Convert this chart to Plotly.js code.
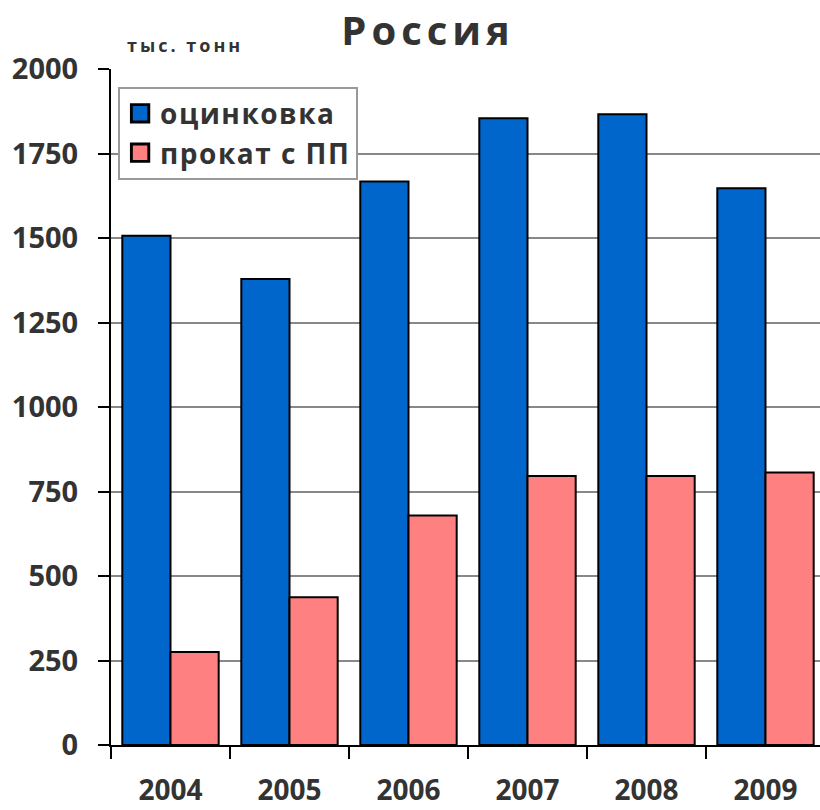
<!DOCTYPE html>
<html>
<head>
<meta charset="utf-8">
<script src="https://cdn.plot.ly/plotly-3.0.1.min.js"></script>
<style>
  html, body { margin: 0; padding: 0; background: #fff; }
  #chart { width: 820px; height: 810px; }
  .gtitle { letter-spacing: 5px; }
  .legendtext { letter-spacing: 1.5px; }
  .annotation-text { letter-spacing: 3px; }
  .legendpoints path { transform: translate(20px, 0px) scale(1.45); }
</style>
</head>
<body>
<div id="chart"></div>
<script>
const years = ['2004', '2005', '2006', '2007', '2008', '2009'];
const galvanized = [1507, 1379, 1667, 1854, 1866, 1647];
const coated = [275, 437, 679, 796, 796, 806];
const seriesNames = ['оцинковка', 'прокат с ПП'];
const yTicks = [0, 250, 500, 750, 1000, 1250, 1500, 1750, 2000];

const FONT = 'Open Sans, DejaVu Sans, sans-serif';
const TXT = '#333333';

const data = [
  {
    type: 'bar', x: years, y: galvanized, name: seriesNames[0],
    marker: { color: '#0066CC', line: { color: '#000', width: 2 } },
    hoverinfo: 'none'
  },
  {
    type: 'bar', x: years, y: coated, name: seriesNames[1],
    marker: { color: '#FF8080', line: { color: '#000', width: 2 } },
    hoverinfo: 'none'
  }
];

const layout = {
  width: 820, height: 810,
  margin: { l: 111, r: 0, t: 69, b: 65 },
  paper_bgcolor: '#fff', plot_bgcolor: '#fff',
  barmode: 'group', bargap: 0.19, bargroupgap: 0,
  showlegend: true,
  title: {
    text: 'Россия',
    font: { family: FONT, size: 40, weight: 700, color: TXT },
    x: 0.522, xref: 'container', xanchor: 'center',
    y: 1 - 31 / 810, yref: 'container', yanchor: 'middle'
  },
  xaxis: {
    type: 'category', range: [-0.5, 5.458],
    showgrid: false, zeroline: false,
    showline: true, linecolor: '#000', linewidth: 2,
    ticks: 'outside', tickson: 'boundaries', ticklen: 12, tickwidth: 2, tickcolor: '#000',
    tickfont: { family: FONT, size: 28, weight: 700, color: TXT },
    ticklabelstandoff: 19,
    fixedrange: true
  },
  yaxis: {
    range: [0, 2000], tickmode: 'array', tickvals: yTicks, ticktext: yTicks.map(String),
    showgrid: true, gridcolor: '#888888', gridwidth: 2,
    zeroline: false,
    showline: true, linecolor: '#000', linewidth: 2,
    ticks: 'outside', ticklen: 11, tickwidth: 2, tickcolor: '#000',
    tickfont: { family: FONT, size: 29, weight: 700, color: TXT },
    ticklabelstandoff: 14,
    fixedrange: true
  },
  legend: {
    x: 0.01, xanchor: 'left', y: 0.974, yanchor: 'top',
    bgcolor: '#fff', bordercolor: '#999', borderwidth: 2,
    font: { family: FONT, size: 28, weight: 700, color: TXT },
    itemclick: false, itemdoubleclick: false
  },
  annotations: [{
    text: 'тыс. тонн', xref: 'paper', yref: 'paper',
    x: 0.02, xanchor: 'left', y: 1.035, yanchor: 'middle',
    showarrow: false,
    font: { family: FONT, size: 18, weight: 700, color: TXT }
  }]
};

Plotly.newPlot('chart', data, layout, { displayModeBar: false, staticPlot: true });
</script>
</body>
</html>
